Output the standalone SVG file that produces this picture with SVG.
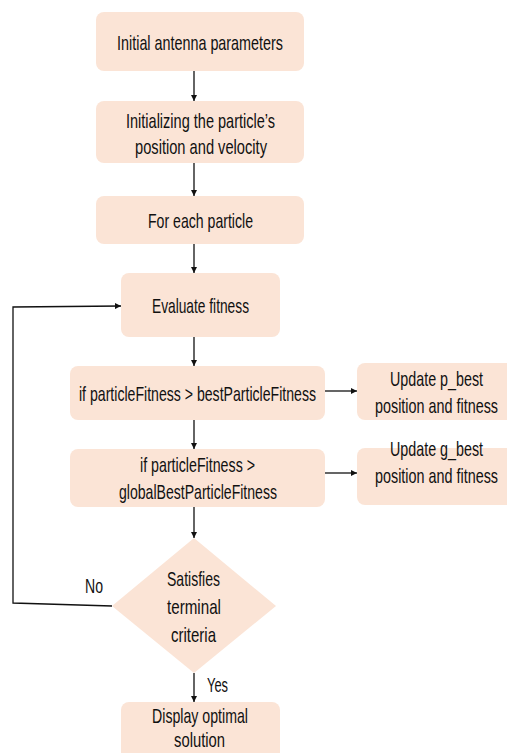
<svg xmlns="http://www.w3.org/2000/svg" width="507" height="753" viewBox="0 0 507 753">
<defs>
<style>
.box{fill:#FBE4D6;stroke:none}
.t{font-family:"Liberation Sans",Arial,sans-serif;font-size:20.5px;fill:#111;text-anchor:middle}
.tl{font-family:"Liberation Sans",Arial,sans-serif;font-size:20.5px;fill:#111}
.c{fill:none;stroke:#111;stroke-width:1.3}
</style>
<marker id="ah" viewBox="0 0 10 10" refX="10" refY="5" markerWidth="6" markerHeight="6" markerUnits="userSpaceOnUse" orient="auto">
<path d="M0,0 L10,5 L0,10 z" fill="#111"/>
</marker>
</defs>
<rect width="507" height="753" fill="#fff"/>
<g id="n1"><rect class="box" x="96" y="12" width="208" height="59" rx="8"/>
<text class="t" transform="translate(200 0) scale(0.7 1)" x="0" y="50" textLength="237" lengthAdjust="spacingAndGlyphs">Initial antenna parameters</text></g>
<g id="n2"><rect class="box" x="96" y="101" width="208" height="62" rx="8"/>
<text class="t" transform="translate(200.5 0) scale(0.7 1)" x="0" y="128" textLength="213" lengthAdjust="spacingAndGlyphs">Initializing the particle’s</text>
<text class="t" transform="translate(201 0) scale(0.7 1)" x="0" y="154" textLength="188.6" lengthAdjust="spacingAndGlyphs">position and velocity</text></g>
<g id="n3"><rect class="box" x="96" y="196" width="208" height="48" rx="8"/>
<text class="t" transform="translate(200.5 0) scale(0.7 1)" x="0" y="228" textLength="150" lengthAdjust="spacingAndGlyphs">For each particle</text></g>
<g id="n4"><rect class="box" x="121" y="273" width="159" height="64" rx="8"/>
<text class="t" transform="translate(200.5 0) scale(0.7 1)" x="0" y="313" textLength="138.6" lengthAdjust="spacingAndGlyphs">Evaluate fitness</text></g>
<g id="n5"><rect class="box" x="70" y="366" width="255" height="54" rx="8"/>
<text class="t" transform="translate(197.5 0) scale(0.7 1)" x="0" y="401" textLength="338.6" lengthAdjust="spacingAndGlyphs">if particleFitness &gt; bestParticleFitness</text></g>
<g id="n6"><path class="box" d="M365,363 H507 V420 H365 A8,8 0 0 1 357,412 V371 A8,8 0 0 1 365,363 Z"/>
<text class="t" transform="translate(436.5 0) scale(0.7 1)" x="0" y="386" textLength="132.9" lengthAdjust="spacingAndGlyphs">Update p_best</text>
<text class="t" transform="translate(436.5 0) scale(0.7 1)" x="0" y="413" textLength="175.7" lengthAdjust="spacingAndGlyphs">position and fitness</text></g>
<g id="n7"><rect class="box" x="70" y="449" width="255" height="58" rx="8"/>
<text class="t" transform="translate(197.5 0) scale(0.7 1)" x="0" y="472" textLength="164.3" lengthAdjust="spacingAndGlyphs">if particleFitness &gt;</text>
<text class="t" transform="translate(198 0) scale(0.7 1)" x="0" y="499" textLength="225.7" lengthAdjust="spacingAndGlyphs">globalBestParticleFitness</text></g>
<g id="n8"><path class="box" d="M365,448 H507 V505 H365 A8,8 0 0 1 357,497 V456 A8,8 0 0 1 365,448 Z"/>
<text class="t" transform="translate(436.5 0) scale(0.7 1)" x="0" y="456" textLength="132.9" lengthAdjust="spacingAndGlyphs">Update g_best</text>
<text class="t" transform="translate(436.5 0) scale(0.7 1)" x="0" y="483" textLength="175.7" lengthAdjust="spacingAndGlyphs">position and fitness</text></g>
<g id="n9"><polygon class="box" points="194,538 276,606 194,673 112,606"/>
<text class="t" transform="translate(193.5 0) scale(0.7 1)" x="0" y="586" textLength="75.7" lengthAdjust="spacingAndGlyphs">Satisfies</text>
<text class="t" transform="translate(194 0) scale(0.7 1)" x="0" y="614" textLength="77.1" lengthAdjust="spacingAndGlyphs">terminal</text>
<text class="t" transform="translate(193.5 0) scale(0.7 1)" x="0" y="642" textLength="64.3" lengthAdjust="spacingAndGlyphs">criteria</text></g>
<g id="n10"><path class="box" d="M129,702 H272 A8,8 0 0 1 280,710 V753 H121 V710 A8,8 0 0 1 129,702 Z"/>
<text class="t" transform="translate(200 0) scale(0.7 1)" x="0" y="723" textLength="137.1" lengthAdjust="spacingAndGlyphs">Display optimal</text>
<text class="t" transform="translate(199.5 0) scale(0.7 1)" x="0" y="747" textLength="72.9" lengthAdjust="spacingAndGlyphs">solution</text></g>
<g id="connectors">
<line class="c" x1="194" y1="71" x2="194" y2="101" marker-end="url(#ah)"/>
<line class="c" x1="194" y1="163" x2="194" y2="196" marker-end="url(#ah)"/>
<line class="c" x1="194" y1="244" x2="194" y2="273" marker-end="url(#ah)"/>
<line class="c" x1="194" y1="337" x2="194" y2="366" marker-end="url(#ah)"/>
<line class="c" x1="194" y1="420" x2="194" y2="449" marker-end="url(#ah)"/>
<line class="c" x1="194" y1="507" x2="194" y2="538" marker-end="url(#ah)"/>
<line class="c" x1="194" y1="673" x2="194" y2="702" marker-end="url(#ah)"/>
<line class="c" x1="325" y1="391" x2="357" y2="391" marker-end="url(#ah)"/>
<line class="c" x1="325" y1="473" x2="357" y2="473" marker-end="url(#ah)"/>
<polyline class="c" points="112,606 13,603 13,307 121,306" marker-end="url(#ah)"/>
<text class="tl" transform="translate(85 0) scale(0.7 1)" x="0" y="593" textLength="25.7" lengthAdjust="spacingAndGlyphs">No</text>
<text class="tl" transform="translate(207 0) scale(0.7 1)" x="0" y="692" textLength="30" lengthAdjust="spacingAndGlyphs">Yes</text>
</g>
</svg>
